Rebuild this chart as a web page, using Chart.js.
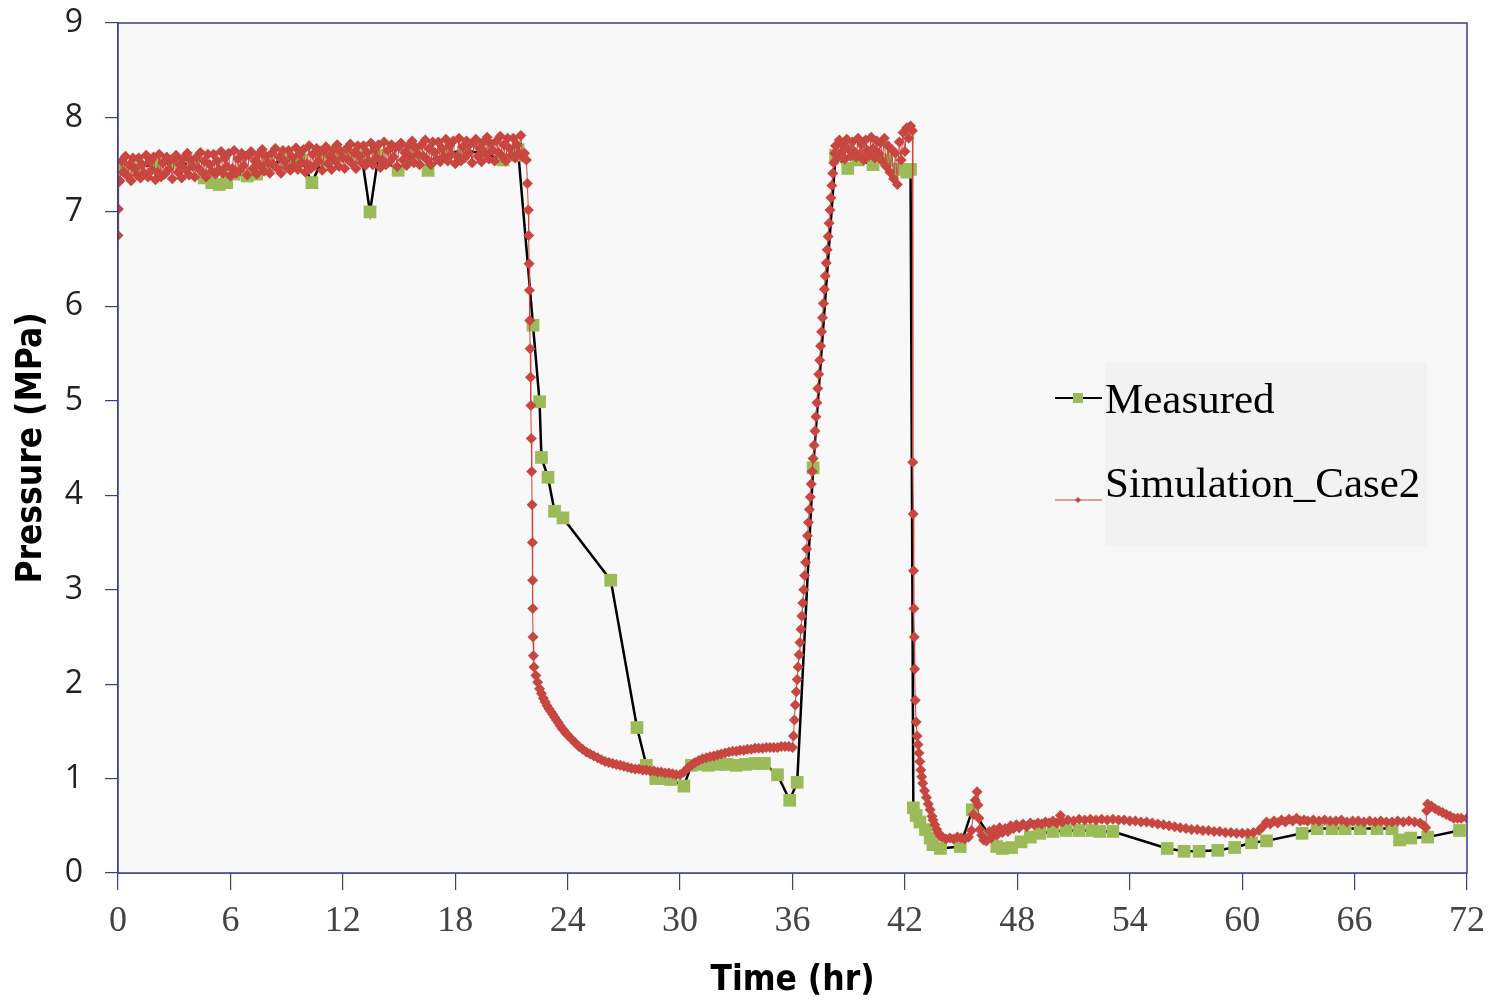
<!DOCTYPE html>
<html>
<head>
<meta charset="utf-8">
<script src="https://cdn.jsdelivr.net/npm/chart.js@4.4.1/dist/chart.umd.min.js"></script>
<style>
  html,body{margin:0;padding:0;background:#fff}
  #wrap{width:1495px;height:1004px;position:relative}
</style>
</head>
<body>
<div id="wrap"><canvas id="chart" width="1495" height="1004"></canvas></div>
<script>
// ── Measured (hr, MPa) ──
const measT = [0.2,1.0,2.0,3.0,4.0,4.6,5.0,5.4,5.8,6.2,6.9,7.4,8.0,9.0,9.8,10.35,10.9,11.5,12.2,13.0,13.45,13.9,14.95,15.8,16.55,17.5,18.5,19.5,20.55,21.2,21.35,
  22.15,22.5,22.6,22.95,23.3,23.75,26.3,27.7,28.2,28.7,29.1,29.5,30.2,30.6,31.0,31.5,32.0,32.5,33.0,33.5,34.0,34.5,35.2,35.85,36.25,37.1,
  38.3,38.95,39.5,40.3,41.0,41.7,42.1,42.3,42.45,42.6,42.8,43.1,43.35,43.5,43.9,44.95,45.6,46.9,47.2,47.7,48.2,48.7,49.2,49.9,50.6,51.3,52.0,52.4,53.1,
  56.0,56.9,57.7,58.7,59.6,60.5,61.3,63.2,64.0,64.8,65.5,66.3,67.2,68.0,68.4,69.0,69.9,71.6];
const measP = [7.45,7.48,7.50,7.52,7.50,7.36,7.31,7.29,7.31,7.40,7.38,7.40,7.50,7.55,7.55,7.31,7.55,7.58,7.60,7.60,7.00,7.60,7.44,7.60,7.44,7.62,7.65,7.62,7.55,7.60,7.66,
  5.80,4.99,4.40,4.19,3.83,3.76,3.10,1.54,1.14,1.00,1.00,0.99,0.92,1.14,1.15,1.14,1.15,1.15,1.14,1.15,1.16,1.16,1.04,0.77,0.96,4.29,
  7.60,7.46,7.55,7.50,7.55,7.45,7.42,7.45,0.69,0.61,0.54,0.46,0.37,0.30,0.26,0.28,0.67,0.28,0.26,0.27,0.33,0.38,0.42,0.44,0.45,0.45,0.45,0.44,0.44,
  0.26,0.23,0.23,0.24,0.27,0.32,0.34,0.42,0.47,0.47,0.47,0.47,0.47,0.47,0.35,0.37,0.38,0.45];

// ── Simulation_Case2 ──
const simStart = [[0,6.75],[0.02,7.03],[0.05,7.32]];
// plateau, sampled every 0.1 hr from 0.1 hr
const simPlateau1T0 = 0.1, simPlateau1Dt = 0.1;
const simPlateau1 = [
  7.33,7.54,7.42,7.59,7.38,7.50,7.33,7.57,7.46,7.39,
  7.57,7.36,7.50,7.41,7.60,7.37,7.53,7.44,7.58,7.34,
  7.42,7.61,7.37,7.52,7.40,7.58,7.45,7.55,7.35,7.56,
  7.60,7.42,7.50,7.36,7.57,7.45,7.62,7.39,7.55,7.48,
  7.37,7.58,7.46,7.63,7.42,7.54,7.37,7.61,7.50,7.43,
  7.61,7.40,7.54,7.45,7.64,7.41,7.57,7.48,7.62,7.38,
  7.46,7.65,7.41,7.56,7.44,7.62,7.49,7.59,7.39,7.60,
  7.64,7.46,7.54,7.40,7.61,7.49,7.66,7.43,7.59,7.52,
  7.41,7.62,7.50,7.67,7.46,7.58,7.41,7.65,7.54,7.47,
  7.65,7.44,7.58,7.49,7.68,7.45,7.61,7.52,7.66,7.42,
  7.51,7.70,7.46,7.61,7.49,7.67,7.54,7.64,7.44,7.65,
  7.69,7.51,7.59,7.45,7.66,7.54,7.71,7.48,7.64,7.57,
  7.46,7.67,7.55,7.72,7.51,7.63,7.46,7.70,7.59,7.52,
  7.70,7.49,7.63,7.54,7.73,7.50,7.66,7.57,7.71,7.47,
  7.55,7.74,7.50,7.65,7.53,7.71,7.58,7.68,7.48,7.69,
  7.73,7.55,7.63,7.49,7.70,7.58,7.75,7.52,7.68,7.61,
  7.50,7.71,7.59,7.76,7.55,7.67,7.50,7.74,7.63,7.56,
  7.74,7.53,7.67,7.58,7.77,7.54,7.70,7.61,7.75,7.51,
  7.59,7.78,7.54,7.69,7.57,7.75,7.62,7.72,7.52,7.73,
  7.77,7.59,7.67,7.53,7.74,7.62,7.79,7.56,7.72,7.65,
  7.54,7.75,7.63,7.80,7.59,7.71,7.54,7.78,7.67,7.60,
  7.78,7.57,7.71,7.62,7.81,7.58
];
const simDrop1 = [[21.7,7.62],[21.8,7.55],[21.85,7.30],[21.9,7.02],[21.92,6.75],[21.94,6.45],[21.96,6.17],[21.98,5.85],
  [22.0,5.55],[22.02,5.25],[22.04,4.95],[22.06,4.60],[22.08,4.25],[22.1,3.90],[22.12,3.50],[22.13,3.10],[22.14,2.80],[22.15,2.50],[22.17,2.30]];
// early decay, sampled every 0.1 hr from 22.2 hr
const simDecayAT0 = 22.2, simDecayADt = 0.1;
const simDecayA = [2.18,2.09,2.02,1.95,1.90,1.85,1.81,1.77,1.74,1.71,1.68,1.65,1.62,1.59,1.56,1.53,1.51,1.48,1.46];
// late decay + recovery, sampled every 0.2 hr from 24.2 hr
const simDecayBT0 = 24.2, simDecayBDt = 0.2;
const simDecayB = [
  1.42,1.38,1.34,1.31,1.28,1.26,1.24,1.22,1.20,1.18,
  1.17,1.16,1.15,1.14,1.13,1.12,1.11,1.10,1.10,1.09,
  1.09,1.08,1.08,1.07,1.07,1.06,1.06,1.05,1.04,1.04,
  1.07,1.11,1.14,1.17,1.19,1.21,1.22,1.23,1.24,1.25,
  1.26,1.27,1.28,1.29,1.29,1.30,1.30,1.31,1.31,1.32,
  1.32,1.32,1.33,1.33,1.33,1.33,1.34,1.34,1.34,1.33
];
// rise, sampled every 0.05 hr from 36.05 hr
const simRiseT0 = 36.05, simRiseDt = 0.05;
const simRise = [
  1.45,1.62,1.78,1.92,2.05,2.18,2.31,2.44,2.58,2.72,
  2.86,3.00,3.15,3.29,3.43,3.57,3.71,3.85,3.98,4.12,
  4.25,4.39,4.53,4.68,4.83,4.98,5.13,5.28,5.43,5.58,
  5.73,5.88,6.03,6.18,6.32,6.46,6.60,6.74,6.88,7.02,
  7.15,7.28,7.41,7.52,7.62,7.70
];
// plateau, sampled every 0.1 hr from 38.4 hr
const simPlateau2T0 = 38.4, simPlateau2Dt = 0.1;
const simPlateau2 = [
  7.57,7.76,7.63,7.70,7.56,7.77,7.66,7.59,7.74,7.64,
  7.58,7.78,7.61,7.71,7.55,7.76,7.65,7.60,7.79,7.67,
  7.57,7.75,7.62,7.73,7.54,7.78,7.48,7.70,7.42,7.66,
  7.35,7.62,7.29,7.74,7.55,7.84,7.64,7.89,7.78,7.91
];
const simTail = [[42.4,7.86],[42.42,4.35],[42.44,3.80],[42.46,3.20],[42.48,2.80],[42.5,2.50],[42.52,2.16],[42.55,1.83],
  [42.6,1.60],[42.65,1.45],[42.7,1.36],[42.75,1.27],[42.8,1.18],[42.85,1.09],[42.9,1.02],[42.95,0.95],[43.05,0.87],
  [43.15,0.80],[43.25,0.73],[43.35,0.67],[43.45,0.60],[43.5,0.56],[43.6,0.51],[43.7,0.46],[43.8,0.42],[43.9,0.39],
  [44.0,0.38],[44.2,0.36],[44.4,0.37],[44.6,0.36],[44.8,0.38],[45.0,0.37],[45.2,0.36],[45.4,0.38],[45.55,0.45],
  [45.65,0.62],[45.75,0.77],[45.85,0.86],[45.9,0.72],[45.95,0.58],[46.0,0.46],[46.1,0.40],[46.2,0.35],[46.35,0.34],
  [46.5,0.44],[46.6,0.37],[46.75,0.46],[46.9,0.40],[47.05,0.48],[47.2,0.43],[47.35,0.47],[47.5,0.44],[47.65,0.50],
  [47.8,0.47],[47.95,0.51],[48.1,0.48],[48.3,0.52],[48.5,0.49],[48.7,0.53],[48.9,0.51],[49.1,0.53],[49.3,0.52],
  [49.5,0.54],[49.7,0.53],[49.9,0.55],[50.1,0.53],[50.3,0.61],[50.4,0.54],[50.7,0.56],[51.0,0.55],[51.3,0.57],
  [51.6,0.56],[51.9,0.57],[52.2,0.56],[52.5,0.57],[52.8,0.56],[53.1,0.57],[53.4,0.56],[53.7,0.56],[54.0,0.55],
  [54.3,0.55],[54.6,0.54],[54.9,0.54],[55.2,0.53],[55.5,0.52],[55.8,0.51],[56.1,0.50],[56.4,0.49],[56.7,0.48],
  [57.0,0.47],[57.3,0.46],[57.6,0.46],[57.9,0.45],[58.2,0.45],[58.5,0.44],[58.8,0.44],[59.1,0.43],[59.4,0.43],
  [59.7,0.42],[60.0,0.42],[60.3,0.42],[60.6,0.43],[60.9,0.45],[61.1,0.49],[61.3,0.54],[61.5,0.52],[61.7,0.55],
  [61.9,0.53],[62.1,0.56],[62.3,0.54],[62.5,0.57],[62.7,0.55],[62.9,0.58],[63.1,0.55],[63.3,0.56],[63.5,0.55],
  [63.8,0.56],[64.1,0.55],[64.4,0.56],[64.7,0.55],[65.0,0.55],[65.3,0.56],[65.6,0.54],[65.9,0.55],[66.2,0.55],
  [66.5,0.54],[66.8,0.55],[67.1,0.54],[67.4,0.55],[67.7,0.54],[68.0,0.54],[68.3,0.55],[68.6,0.54],[68.9,0.55],
  [69.2,0.54],[69.5,0.53],[69.7,0.50],[69.8,0.48],[69.85,0.66],[69.9,0.73],[70.1,0.71],[70.3,0.68],[70.5,0.66],
  [70.7,0.64],[70.9,0.62],[71.1,0.60],[71.3,0.58],[71.5,0.58],[71.7,0.58],[72.0,0.58]];

const xTicks = [0,6,12,18,24,30,36,42,48,54,60,66,72];
const yTicks = [0,1,2,3,4,5,6,7,8,9];

// armar puntos {x,y}
const pts = arr => arr.map(([x,y])=>({x,y}));
const sampled = (t0,dt,vals) => vals.map((v,i)=>({x:+(t0+i*dt).toFixed(3), y:v}));

const measData = measT.map((t,i)=>({x:t, y:measP[i]}));
const simData = [
  ...pts(simStart),
  ...sampled(simPlateau1T0, simPlateau1Dt, simPlateau1),
  ...pts(simDrop1),
  ...sampled(simDecayAT0, simDecayADt, simDecayA),
  ...sampled(simDecayBT0, simDecayBDt, simDecayB),
  ...sampled(simRiseT0, simRiseDt, simRise),
  ...sampled(simPlateau2T0, simPlateau2Dt, simPlateau2),
  ...pts(simTail)
];

const RED   = '#C84640';
const GREEN = '#9BBB59';
const AXIS  = '#3B3B8F';

// fondo del área y marco
const frame = {
  id:'frame',
  beforeDatasetsDraw(chart){
    const {ctx, chartArea:a} = chart;
    ctx.save();
    ctx.fillStyle = '#F8F8F8';
    ctx.fillRect(a.left, a.top, a.right-a.left, a.bottom-a.top);
    ctx.restore();
  },
  afterDraw(chart){
    const {ctx, chartArea:a} = chart;
    ctx.save();
    ctx.strokeStyle = AXIS;
    ctx.lineWidth = 1.5;
    ctx.strokeRect(a.left, a.top, a.right-a.left, a.bottom-a.top);
    ctx.restore();
  }
};

// leyenda
const legendBox = {
  id:'legendBox',
  afterDraw(chart){
    const {ctx} = chart;
    ctx.save();
    ctx.fillStyle = '#F2F2F2';
    ctx.fillRect(1105, 362, 322, 185);
    // Measured
    ctx.strokeStyle = '#000'; ctx.lineWidth = 2;
    ctx.beginPath(); ctx.moveTo(1055, 398); ctx.lineTo(1102, 398); ctx.stroke();
    ctx.fillStyle = GREEN; ctx.fillRect(1073, 393, 10, 10);
    // Simulation
    ctx.strokeStyle = RED; ctx.lineWidth = 1;
    ctx.beginPath(); ctx.moveTo(1055, 500); ctx.lineTo(1102, 500); ctx.stroke();
    ctx.fillStyle = RED;
    ctx.beginPath(); ctx.moveTo(1078,497); ctx.lineTo(1081,500); ctx.lineTo(1078,503); ctx.lineTo(1075,500); ctx.closePath(); ctx.fill();
    ctx.fillStyle = '#000';
    ctx.font = '43px "Liberation Serif", "Times New Roman", serif';
    ctx.textBaseline = 'alphabetic';
    ctx.fillText('Measured', 1105, 413);
    ctx.fillText('Simulation_Case2', 1105, 497);
    ctx.restore();
  }
};

const TITLE_FONT = '"DejaVu Sans Condensed", "Liberation Sans Narrow", sans-serif';

new Chart(document.getElementById('chart'), {
  type:'line',
  data:{
    datasets:[
      {
        label:'Simulation_Case2',
        data: simData,
        order: 0,
        borderColor: RED,
        borderWidth: 1,
        pointStyle: 'rectRot',
        pointRadius: 5.5,
        pointBackgroundColor: RED,
        pointBorderColor: RED,
        pointBorderWidth: 0,
        tension: 0,
      },
      {
        label:'Measured',
        data: measData,
        order: 1,
        borderColor: '#000',
        borderWidth: 2.5,
        pointStyle: 'rect',
        pointRadius: 9,
        pointBackgroundColor: GREEN,
        pointBorderColor: GREEN,
        pointBorderWidth: 0,
        tension: 0,
      }
    ]
  },
  options:{
    responsive:false,
    animation:false,
    parsing:false,
    layout:{ padding:{ left:0, top:23, right:28, bottom:0 } },
    plugins:{
      legend:{ display:false },
      tooltip:{ enabled:false }
    },
    scales:{
      x:{
        type:'linear', min:0, max:72,
        afterFit: s => { s.height = 131; s.paddingLeft = 0; s.paddingRight = 0; },
        afterBuildTicks: s => { s.ticks = xTicks.map(v=>({value:v})); },
        border:{ display:true, color:AXIS, width:1.5 },
        grid:{ drawOnChartArea:false, drawTicks:true, tickLength:17, color:AXIS, lineWidth:1.2 },
        ticks:{ color:'#444', padding:10, maxRotation:0,
          font:{ family:'"Liberation Serif", "Times New Roman", serif', size:36 } },
        title:{ display:true, text:'Time (hr)', color:'#000', padding:{top:0, bottom:2},
          font:{ family:TITLE_FONT, size:35, weight:'bold' } }
      },
      y:{
        type:'linear', min:0, max:9,
        afterFit: s => { s.width = 118; s.paddingTop = 0; s.paddingBottom = 0; },
        afterBuildTicks: s => { s.ticks = yTicks.map(v=>({value:v})); },
        border:{ display:true, color:AXIS, width:1.5 },
        grid:{ drawOnChartArea:false, drawTicks:true, tickLength:13, color:AXIS, lineWidth:1.2 },
        ticks:{ color:'#222', padding:22,
          font:{ family:'"Open Sans", "DejaVu Sans", sans-serif', size:32 } },
        title:{ display:true, text:'Pressure (MPa)', color:'#000', padding:{top:11, bottom:0},
          font:{ family:TITLE_FONT, size:35, weight:'bold' } }
      }
    }
  },
  plugins:[frame, legendBox]
});
</script>
</body>
</html>
